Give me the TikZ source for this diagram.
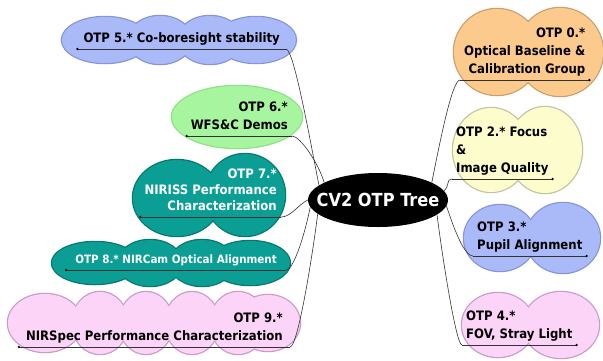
\documentclass[tikz,border=0pt]{standalone}
\usepackage{fontspec}
\setmainfont{DejaVu Sans Condensed}[BoldFont={DejaVu Sans Condensed Bold}]
\usepackage{tikz}
\usetikzlibrary{positioning}
\usetikzlibrary{shapes.geometric}

\definecolor{blueFill}{RGB}{170,185,247}
\definecolor{blueEdge}{RGB}{135,148,215}
\definecolor{greenFill}{RGB}{168,245,160}
\definecolor{greenEdge}{RGB}{140,225,130}
\definecolor{tealFill}{RGB}{10,158,148}
\definecolor{tealEdge}{RGB}{8,118,110}
\definecolor{pinkFill}{RGB}{252,212,248}
\definecolor{pinkEdge}{RGB}{200,155,200}
\definecolor{orangeFill}{RGB}{252,202,140}
\definecolor{orangeEdge}{RGB}{200,160,112}
\definecolor{yellowFill}{RGB}{252,252,205}
\definecolor{yellowEdge}{RGB}{195,195,160}

% cloud = union of puffs: border pass first, then fill pass
\newcommand{\drawcloud}[3]{%
  \foreach \cx/\cy/\rx/\ry in {#3}
    \draw[#2, line width=2.5pt] (\cx,\cy) ellipse [x radius=\rx pt, y radius=\ry pt];
  \foreach \cx/\cy/\rx/\ry in {#3}
    \fill[#1] (\cx,\cy) ellipse [x radius=\rx pt, y radius=\ry pt];
}

\tikzset{
  topic/.style={font=\bfseries\fontsize{13}{18}\selectfont, inner xsep=4pt, inner ysep=3pt, text depth=3pt},
  leftfork/.style={topic, anchor=south east, align=right},
  rightfork/.style={topic, anchor=south west, align=left},
  root/.style={ellipse, fill=black, text=white, minimum width=140pt, minimum height=54pt, inner xsep=-12pt, inner ysep=6pt, font=\bfseries\fontsize{18}{21}\selectfont},
  branch/.style={draw=black!80, line width=0.6pt}
}

\begin{document}
\begin{tikzpicture}[x=1pt, y=-1pt]
                \useasboundingbox (0,0) rectangle (603,360);

                % Clouds
                \drawcloud{blueFill}{blueEdge}{105/40/43/23, 160/40/32/24, 210/40/32/24, 256/40/40/23}
                \drawcloud{greenFill}{greenEdge}{237/117/65/31}
                \drawcloud{tealFill}{tealEdge}{177/198/44/38, 245/195/40/41}
                \drawcloud{tealFill}{tealEdge}{95/263/43/21, 150/263/32/23, 202/263/32/23, 250/263/40/22}
                \drawcloud{pinkFill}{pinkEdge}{45/323/37/29, 100/323/28/31, 146/323/27/31, 192/323/27/31, 238/323/28/31, 268/323/32/28}
                \drawcloud{orangeFill}{orangeEdge}{497/52/43/43, 560/52/43/44}
                \drawcloud{yellowFill}{yellowEdge}{491/150/38/42, 545/150/37/43}
                \drawcloud{blueFill}{blueEdge}{500/238/36/33, 563/238/37/35}
                \drawcloud{pinkFill}{pinkEdge}{498/325/36/32, 561/325/38/33}

                % Nodes
                \node at (378,200) (root) [root] {CV2 OTP Tree};
                \node at (286,49) (otp5) [leftfork, inner xsep=6pt] {OTP 5.* Co-boresight stability};
                \node at (292,136) (otp6) [leftfork] {OTP 6.*\\WFS\&C Demos};
                \node at (281,217) (otp7) [leftfork, text=white, font=\bfseries\fontsize{13}{16}\selectfont] {OTP 7.*\\NIRISS Performance\\Characterization};
                \node at (286,270) (otp8) [leftfork, text=white, inner xsep=9pt, font=\bfseries\fontsize{11.5}{16}\selectfont] {OTP 8.* NIRCam Optical Alignment};
                \node at (290,347) (otp9) [leftfork, inner xsep=7pt] {OTP 9.*\\NIRSpec Performance Characterization};
                \node at (460,80) (otp0) [rightfork, align=right] {OTP 0.*\\Optical Baseline \&\\Calibration Group};
                \node at (452,179) (otp2) [rightfork] {OTP 2.* Focus\\\&\\Image Quality};
                \node at (473,256) (otp3) [rightfork] {OTP 3.*\\Pupil Alignment};
                \node at (462,345) (otp4) [rightfork] {OTP 4.*\\FOV, Stray Light};

                % Underlines
                \foreach \n in {otp5,otp6,otp7,otp8,otp9} {
                  \draw[branch] (\n.south west) -- (\n.south east);
                  \fill (\n.south west) circle (1.3pt);
                }
                \foreach \n in {otp0,otp2,otp3,otp4} {
                  \draw[branch] (\n.south west) -- (\n.south east);
                  \fill (\n.south east) circle (1.3pt);
                }

                % Branches
                \draw[branch] (otp5.south east) .. controls +(8,0) and +(-8,-40) .. (root.166);
                \draw[branch] (otp6.south east) .. controls +(8,0) and +(-6,-20) .. (root.162);
                \draw[branch] (otp7.south east) .. controls +(10,0) and +(-10,5) .. (root.180);
                \draw[branch] (otp8.south east) .. controls +(8,0) and +(-5,25) .. (root.186);
                \draw[branch] (otp9.south east) .. controls +(8,0) and +(-5,40) .. (root.193);
                \draw[branch] (otp0.south west) .. controls +(-8,0) and +(8,-40) .. (root.18);
                \draw[branch] (otp2.south west) .. controls +(-6,0) and +(6,-5) .. (root.8);
                \draw[branch] (otp3.south west) .. controls +(-10,0) and +(5,15) .. (root.-5);
                \draw[branch] (otp4.south west) .. controls +(-6,0) and +(5,40) .. (root.-14);

            \end{tikzpicture}
\end{document}
